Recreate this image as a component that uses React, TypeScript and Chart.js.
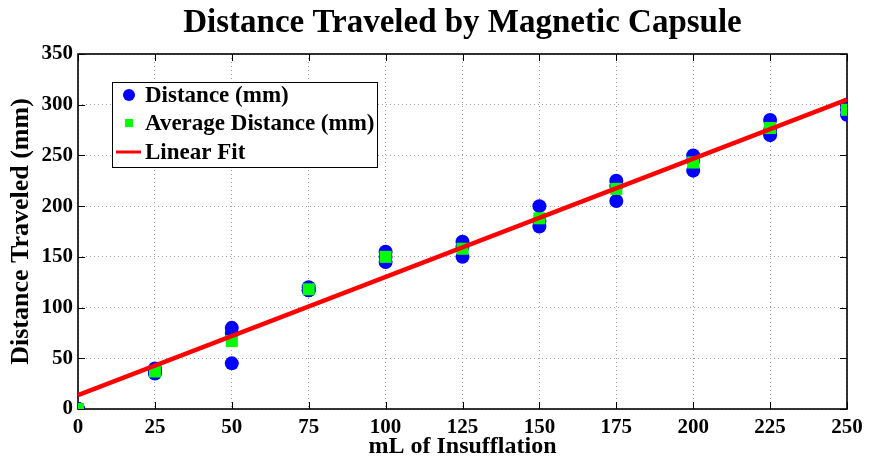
import React, { useEffect, useRef } from "react";
import { Chart, registerables } from "chart.js";

Chart.register(...registerables);

const TITLE = "Distance Traveled by Magnetic Capsule";
const X_LABEL = "mL of Insufflation";
const Y_LABEL = "Distance Traveled (mm)";

const volumes = [0, 25, 50, 75, 100, 125, 150, 175, 200, 225, 250];
const trialA = [0, 40, 80, 120, 155, 165, 200, 225, 250, 285, 300];
const trialB = [0, 37, 75, 117, 150, 160, 185, 220, 245, 275, 295];
const trialC = [0, 35, 45, 117, 145, 150, 180, 205, 235, 270, 290];
const averages = [0, 37, 67, 118, 150, 158, 188, 217, 243, 277, 295];
const fitX = [0, 250];
const fitY = [13.7, 305];

const xTicks = [0, 25, 50, 75, 100, 125, 150, 175, 200, 225, 250];
const yTicks = [0, 50, 100, 150, 200, 250, 300, 350];

const LEGEND_LABELS = ["Distance (mm)", "Average Distance (mm)", "Linear Fit"];

const FONT = "'Liberation Serif', 'Times New Roman', serif";

export default function App() {
  const ref = useRef<HTMLCanvasElement | null>(null);

  useEffect(() => {
    if (!ref.current) return;
    const distPts: { x: number; y: number }[] = [];
    volumes.forEach((v, i) => {
      distPts.push({ x: v, y: trialA[i] });
      distPts.push({ x: v, y: trialB[i] });
      distPts.push({ x: v, y: trialC[i] });
    });
    const avgPts = volumes.map((v, i) => ({ x: v, y: averages[i] }));
    const fitPts = fitX.map((v, i) => ({ x: v, y: fitY[i] }));

    const framePlugin = {
      id: "matlabFrame",
      beforeDatasetsDraw(chart: any) {
        const { ctx, chartArea: a, scales } = chart;
        ctx.save();
        ctx.strokeStyle = "#000";
        ctx.lineWidth = 1;
        const tl = 7;
        ctx.beginPath();
        xTicks.forEach((t) => {
          const px = Math.round(scales.x.getPixelForValue(t)) + 0.5;
          ctx.moveTo(px, a.bottom);
          ctx.lineTo(px, a.bottom - tl);
          ctx.moveTo(px, a.top);
          ctx.lineTo(px, a.top + tl);
        });
        yTicks.forEach((t) => {
          const py = Math.round(scales.y.getPixelForValue(t)) + 0.5;
          ctx.moveTo(a.left, py);
          ctx.lineTo(a.left + tl, py);
          ctx.moveTo(a.right, py);
          ctx.lineTo(a.right - tl, py);
        });
        ctx.stroke();
        ctx.lineWidth = 1.6;
        ctx.strokeRect(a.left, a.top, a.right - a.left, a.bottom - a.top);
        ctx.restore();
      },
      afterDraw(chart: any) {
        const { ctx, chartArea: a } = chart;
        ctx.save();
        // title
        ctx.fillStyle = "#000";
        ctx.font = `bold 33px ${FONT}`;
        ctx.textAlign = "center";
        ctx.textBaseline = "middle";
        ctx.fillText(TITLE, (a.left + a.right) / 2, 23);
        // legend
        const bx = a.left + 34;
        const by = a.top + 28;
        const bw = 265;
        const bh = 85;
        ctx.fillStyle = "#fff";
        ctx.fillRect(bx, by, bw, bh);
        ctx.strokeStyle = "#000";
        ctx.lineWidth = 1;
        ctx.strokeRect(bx + 0.5, by + 0.5, bw, bh);
        const rows = [by + 13, by + 41, by + 70];
        const mx = bx + 17;
        ctx.fillStyle = "#0000ff";
        ctx.beginPath();
        ctx.arc(mx, rows[0], 6, 0, Math.PI * 2);
        ctx.fill();
        ctx.fillStyle = "#00ff00";
        ctx.fillRect(mx - 4, rows[1] - 4, 8, 8);
        ctx.strokeStyle = "#ff0000";
        ctx.lineWidth = 3;
        ctx.beginPath();
        ctx.moveTo(bx + 4, rows[2]);
        ctx.lineTo(bx + 29, rows[2]);
        ctx.stroke();
        ctx.fillStyle = "#000";
        ctx.font = `bold 23px ${FONT}`;
        ctx.textAlign = "left";
        ctx.textBaseline = "middle";
        LEGEND_LABELS.forEach((t, i) => ctx.fillText(t, bx + 33, rows[i] + 1));
        ctx.restore();
      },
    };

    const chart = new Chart(ref.current, {
      type: "scatter",
      data: {
        datasets: [
          {
            type: "line",
            label: LEGEND_LABELS[2],
            data: fitPts,
            borderColor: "#ff0000",
            borderWidth: 4.5,
            pointRadius: 0,
            showLine: true,
            fill: false,
            order: 0,
          } as any,
          {
            label: LEGEND_LABELS[1],
            data: avgPts,
            pointStyle: "rect",
            pointRadius: 8.5,
            backgroundColor: "#00ff00",
            borderWidth: 0,
            order: 1,
          },
          {
            label: LEGEND_LABELS[0],
            data: distPts,
            pointStyle: "circle",
            pointRadius: 7,
            backgroundColor: "#0000ff",
            borderWidth: 0,
            order: 2,
          },
        ],
      },
      options: {
        responsive: false,
        animation: false,
        events: [],
        layout: { padding: { top: 54, right: 23, left: 0, bottom: 0 } },
        plugins: {
          legend: { display: false },
          tooltip: { enabled: false },
          title: { display: false },
        },
        scales: {
          x: {
            type: "linear",
            min: 0,
            max: 250,
            afterFit: (s: any) => {
              s.height = 54;
            },
            afterBuildTicks: (s: any) => {
              s.ticks = xTicks.map((v) => ({ value: v }));
            },
            ticks: {
              color: "#000",
              padding: 6,
              maxRotation: 0,
              autoSkip: false,
              font: { family: FONT, size: 21, weight: "bold" },
            },
            grid: { color: "#a0a0a0", lineWidth: 1, drawTicks: false },
            border: { display: false, dash: [1, 3] },
            title: {
              display: true,
              text: X_LABEL,
              color: "#000",
              padding: { top: 0, bottom: 1.5 },
              font: { family: FONT, size: 24, weight: "bold" },
            },
          },
          y: {
            type: "linear",
            min: 0,
            max: 350,
            afterFit: (s: any) => {
              s.width = 78;
            },
            afterBuildTicks: (s: any) => {
              s.ticks = yTicks.map((v) => ({ value: v }));
            },
            ticks: {
              color: "#000",
              padding: 5,
              autoSkip: false,
              font: { family: FONT, size: 21, weight: "bold" },
            },
            grid: { color: "#a0a0a0", lineWidth: 1, drawTicks: false },
            border: { display: false, dash: [1, 3] },
            title: {
              display: true,
              text: Y_LABEL,
              color: "#000",
              padding: { top: 6, bottom: 0 },
              font: { family: FONT, size: 26, weight: "bold" },
            },
          },
        },
      },
      plugins: [framePlugin],
    });
    return () => chart.destroy();
  }, []);

  return (
    <div style={{ position: "absolute", left: 0, top: 0, width: 870, height: 463, background: "#fff" }}>
      <canvas ref={ref} width={870} height={463} />
    </div>
  );
}
